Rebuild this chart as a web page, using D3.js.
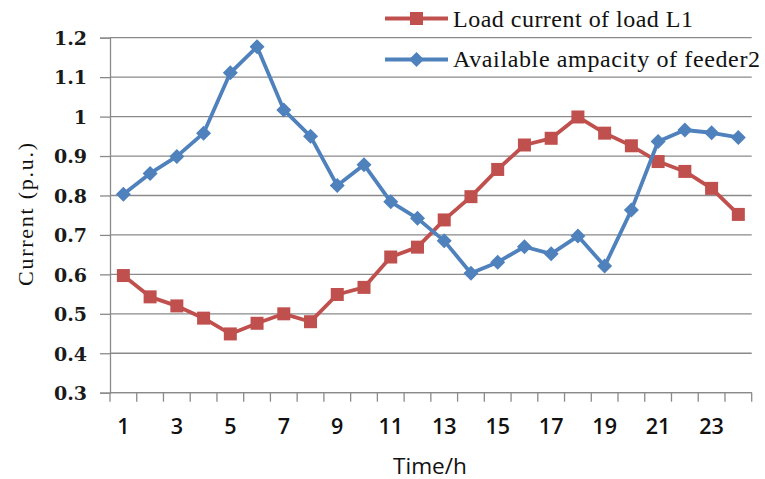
<!DOCTYPE html>
<html><head><meta charset="utf-8">
<script src="https://cdn.jsdelivr.net/npm/d3@7"></script>
<style>html,body{margin:0;padding:0;background:#fff;}svg{display:block;}</style>
</head><body>
<svg id="chart" width="765" height="479"></svg>
<script>
const hours = d3.range(1, 25);
const xTickLabels = ["1","3","5","7","9","11","13","15","17","19","21","23"];
const yTicks = [0.3,0.4,0.5,0.6,0.7,0.8,0.9,1.0,1.1,1.2];
const yTickLabels = ["0.3","0.4","0.5","0.6","0.7","0.8","0.9","1","1.1","1.2"];
const loadL1 = [0.597,0.543,0.52,0.489,0.449,0.476,0.5,0.48,0.549,0.567,0.644,0.669,0.738,0.797,0.866,0.928,0.945,0.999,0.958,0.926,0.886,0.861,0.818,0.752];
const feeder2 = [0.803,0.856,0.899,0.958,1.111,1.177,1.017,0.95,0.825,0.878,0.784,0.742,0.685,0.603,0.631,0.67,0.652,0.697,0.621,0.763,0.937,0.966,0.959,0.947];
const seriesNames = ["Load current of load L1","Available ampacity of feeder2"];
const colors = ["#C0504D","#4F81BD"];

const svg = d3.select("#chart");
const L = 110, R = 751.7, T = 37.7, B = 392.7;
const x = d3.scaleBand().domain(hours).range([L, R]).padding(0);
const y = d3.scaleLinear().domain([0.3, 1.2]).range([B, T]);
const grid = "#8a8a8a";

// gridlines
svg.append("g").selectAll("line").data(yTicks).join("line")
  .attr("x1", L).attr("x2", R).attr("y1", d => y(d)).attr("y2", d => y(d))
  .attr("stroke", grid).attr("stroke-width", 1.3);

// y axis
const yAxis = d3.axisLeft(y).tickValues(yTicks).tickSize(10).tickPadding(12)
  .tickFormat((d, i) => yTickLabels[i]);
const gy = svg.append("g").attr("transform", `translate(${L},0)`).call(yAxis);
gy.select(".domain").attr("stroke", grid).attr("stroke-width", 1.3);
gy.selectAll(".tick line").attr("stroke", grid).attr("stroke-width", 1.3);
gy.selectAll(".tick text").attr("font-family", "DejaVu Serif").attr("font-weight", 600)
  .attr("font-size", 19).attr("fill", "#1a1a1a").attr("x", -23).attr("dy", "0.36em");

// x axis
const gx = svg.append("g");
gx.append("line").attr("x1", L).attr("x2", R).attr("y1", B).attr("y2", B)
  .attr("stroke", grid).attr("stroke-width", 1.3);
const bounds = hours.map(h => x(h)).concat([x(24) + x.bandwidth()]);
gx.selectAll("line.tk").data(bounds).join("line").attr("class", "tk")
  .attr("x1", d => d).attr("x2", d => d).attr("y1", B).attr("y2", B + 9)
  .attr("stroke", grid).attr("stroke-width", 1.3);
gx.selectAll("text").data(xTickLabels).join("text")
  .attr("x", d => x(+d) + x.bandwidth() / 2).attr("y", 434)
  .attr("text-anchor", "middle").attr("font-family", "Open Sans").attr("font-weight", 600)
  .attr("font-size", 21.5).attr("fill", "#111").text(d => d);

// axis titles
svg.append("text").attr("x", 430).attr("y", 474).attr("text-anchor", "middle")
  .attr("font-family", "Open Sans").attr("font-size", 22).attr("fill", "#111")
  .attr("textLength", 74).attr("lengthAdjust", "spacingAndGlyphs").text("Time/h");
svg.append("text").attr("transform", "translate(33,214.5) rotate(-90)")
  .attr("text-anchor", "middle").attr("font-family", "Liberation Serif").attr("font-size", 22)
  .attr("fill", "#111").attr("textLength", 143).attr("lengthAdjust", "spacing")
  .text("Current (p.u.)");

// lines
const line = d3.line().x((d, i) => x(hours[i]) + x.bandwidth() / 2).y(d => y(d));
const allSeries = [loadL1, feeder2];
const sq = 13, dm = 15;
function marker(g, k, cx, cy) {
  if (k === 0) {
    g.append("rect").attr("x", cx - sq / 2).attr("y", cy - sq / 2).attr("width", sq).attr("height", sq)
      .attr("fill", colors[0]);
  } else {
    const h = dm / 2;
    g.append("path").attr("d", `M${cx},${cy - h}L${cx + h},${cy}L${cx},${cy + h}L${cx - h},${cy}Z`)
      .attr("fill", colors[1]);
  }
}
allSeries.forEach((s, k) => {
  const g = svg.append("g");
  g.append("path").datum(s).attr("d", line).attr("fill", "none")
    .attr("stroke", colors[k]).attr("stroke-width", 3.8).attr("stroke-linejoin", "round");
  s.forEach((v, i) => marker(g, k, x(hours[i]) + x.bandwidth() / 2, y(v)));
});

// legend
const legendRows = [{cy: 18.5, base: 27, len: 240}, {cy: 59.5, base: 67, len: 307}];
seriesNames.forEach((name, k) => {
  const g = svg.append("g");
  const r = legendRows[k];
  g.append("line").attr("x1", 385).attr("x2", 448).attr("y1", r.cy).attr("y2", r.cy)
    .attr("stroke", colors[k]).attr("stroke-width", 3.8);
  marker(g, k, 416.5, r.cy);
  g.append("text").attr("x", 453).attr("y", r.base).attr("font-family", "Liberation Serif")
    .attr("font-size", 24).attr("fill", "#111").attr("textLength", r.len)
    .attr("lengthAdjust", "spacing").text(name);
});
</script>
</body></html>
